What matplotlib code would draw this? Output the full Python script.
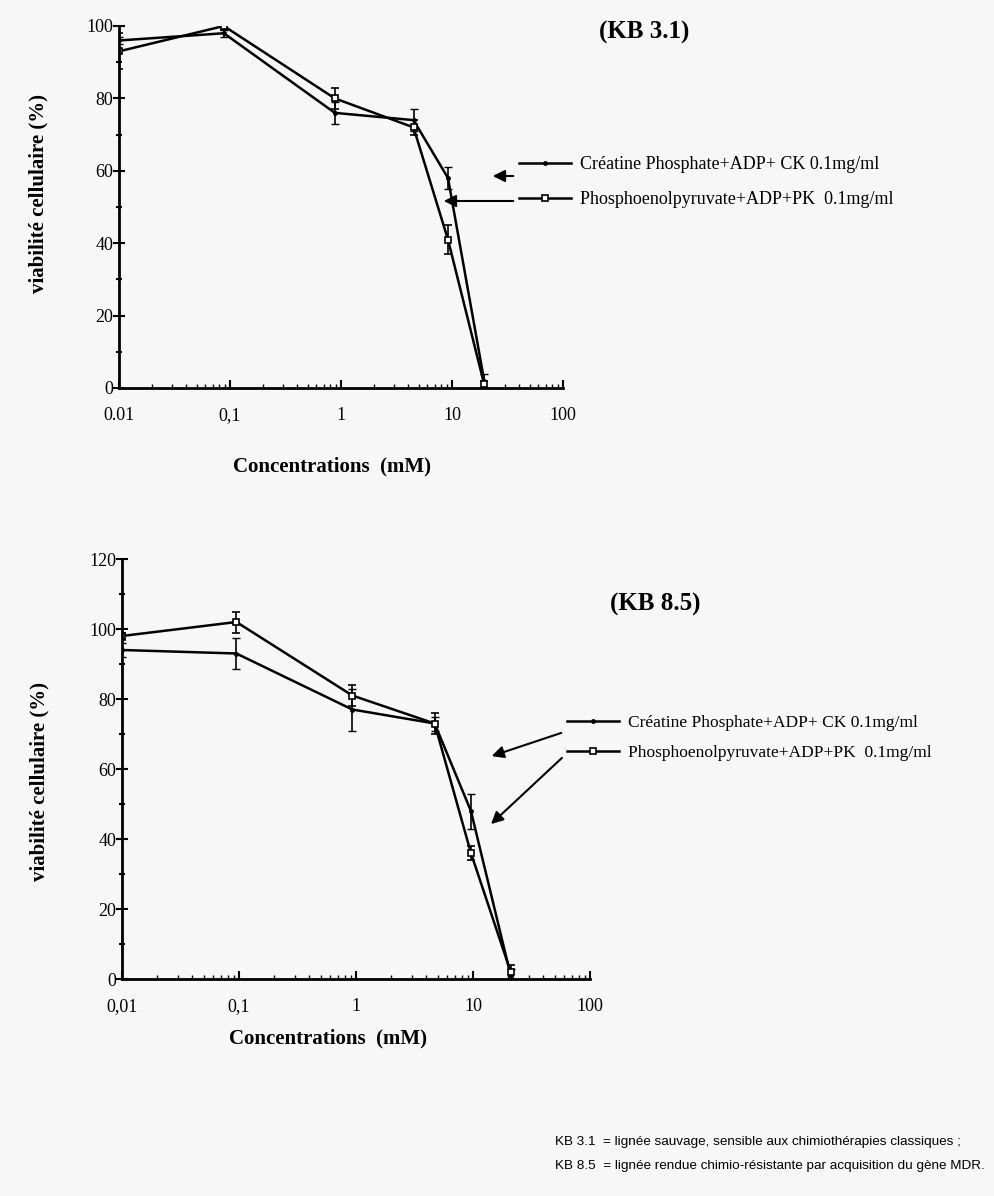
import matplotlib
matplotlib.use("Agg")
import matplotlib.pyplot as plt
from matplotlib.lines import Line2D
from matplotlib.ticker import FixedLocator, NullFormatter, LogLocator

# =========================================================
# Données
# =========================================================
labels_series = ["Créatine Phosphate+ADP+ CK 0.1mg/ml",
                 "Phosphoenolpyruvate+ADP+PK  0.1mg/ml"]

# KB 3.1
conc_kb31 = [0.01, 0.088, 0.88, 4.5, 9.2, 19.5]
crea_kb31 = [96, 98, 76, 74, 58, 2]
crea_kb31_err = [1, 1, 3, 3, 3, 2]
pep_kb31 = [93, 100, 80, 72, 41, 1]
pep_kb31_err = [5, 1, 3, 2, 4, 1]

# KB 8.5
conc_kb85 = [0.01, 0.095, 0.93, 4.7, 9.6, 21]
crea_kb85 = [94, 93, 77, 73, 48, 1]
crea_kb85_err = [2, 4.5, 6, 2, 5, 2]
pep_kb85 = [98, 102, 81, 73, 36, 2]
pep_kb85_err = [1, 3, 3, 3, 2, 2]

xticks = [0.01, 0.1, 1, 10, 100]
xticklabels_kb31 = ["0.01", "0,1", "1", "10", "100"]
xticklabels_kb85 = ["0,01", "0,1", "1", "10", "100"]

W, H = 994, 1196
SERIF = ["Liberation Serif", "DejaVu Serif"]
SANS = ["Liberation Sans", "DejaVu Sans"]
BG = "#f7f7f7"


def fpx(x, y):
    # coordonnées image (origine en haut) -> pixels figure
    return (x, H - y)


def fleche(ax, x0, y0, x1, y1):
    ax.annotate("", xy=fpx(x1, y1), xytext=fpx(x0, y0), xycoords="figure pixels",
                textcoords="figure pixels",
                arrowprops=dict(arrowstyle="-|>", color="black", lw=1.5,
                                mutation_scale=18))


def tracer(ax, conc, crea, crea_err, pep, pep_err, ymax, xlabels):
    ax.errorbar(conc, crea, yerr=crea_err, color="black", lw=1.8,
                marker="o", ms=2.5, capsize=3, elinewidth=1.2)
    ax.errorbar(conc, pep, yerr=pep_err, color="black", lw=1.8,
                marker="s", ms=4, mfc="white", mew=1.2, capsize=3,
                elinewidth=1.2)
    ax.set_xscale("log")
    ax.set_xlim(0.01, 100)
    ax.set_ylim(0, ymax)
    ax.set_facecolor(BG)
    for s in ["top", "right"]:
        ax.spines[s].set_visible(False)
    for s in ["left", "bottom"]:
        ax.spines[s].set_linewidth(2)
    ax.set_xticks(xticks)
    ax.set_xticklabels(xlabels, family=SERIF, fontsize=13)
    ax.xaxis.set_minor_locator(LogLocator(base=10, subs=range(2, 10)))
    ax.xaxis.set_minor_formatter(NullFormatter())
    ax.set_yticks(range(0, ymax + 1, 20))
    ax.set_yticklabels([str(v) for v in range(0, ymax + 1, 20)],
                       family=SERIF, fontsize=13)
    ax.yaxis.set_minor_locator(FixedLocator(range(10, ymax, 20)))
    ax.tick_params(axis="y", which="major", direction="inout", length=8, width=1.5, pad=0)
    ax.tick_params(axis="y", which="minor", direction="inout", length=5, width=1.5)
    ax.tick_params(axis="x", which="major", direction="in", length=6, width=1.5, pad=14)
    ax.tick_params(axis="x", which="minor", direction="in", length=3, width=1)
    ax.set_ylabel("viabilité cellulaire (%)", family=SERIF, fontsize=15,
                  fontweight="bold")
    ax.set_xlabel("Concentrations  (mM)", family=SERIF, fontsize=15,
                  fontweight="bold")


poignees = [Line2D([], [], color="black", lw=1.8, marker="o", ms=2.5),
            Line2D([], [], color="black", lw=1.8, marker="s", ms=4,
                   mfc="white", mew=1.2)]

fig = plt.figure(figsize=(W / 100, H / 100), dpi=100)
fig.patch.set_facecolor(BG)

# === KB 3.1 ===
ax1 = fig.add_axes([119 / W, 1 - 388 / H, 444 / W, 362 / H])
tracer(ax1, conc_kb31, crea_kb31, crea_kb31_err, pep_kb31, pep_kb31_err,
       100, xticklabels_kb31)
ax1.yaxis.set_label_coords(-0.158, 0.536)
ax1.xaxis.set_label_coords(0.48, -0.19)
fig.text(644 / W, 1 - 32 / H, "(KB 3.1)", family=SERIF, fontsize=18,
         fontweight="bold", ha="center", va="center")
fig.legend(poignees, labels_series, loc="center left", frameon=False,
           bbox_to_anchor=(519 / W, 1 - 182 / H), prop={"family": SERIF, "size": 13},
           handlelength=2.9, handletextpad=0.5, labelspacing=1.0,
           borderpad=0, borderaxespad=0)
fleche(ax1, 516, 176, 490, 176)
fleche(ax1, 516, 201, 441, 201)

# === KB 8.5 ===
ax2 = fig.add_axes([122 / W, 1 - 979 / H, 468 / W, 420 / H])
tracer(ax2, conc_kb85, crea_kb85, crea_kb85_err, pep_kb85, pep_kb85_err,
       120, xticklabels_kb85)
ax2.yaxis.set_label_coords(-0.154, 0.47)
ax2.xaxis.set_label_coords(0.44, -0.117)
fig.text(655 / W, 1 - 604 / H, "(KB 8.5)", family=SERIF, fontsize=18,
         fontweight="bold", ha="center", va="center")
fig.legend(poignees, labels_series, loc="center left", frameon=False,
           bbox_to_anchor=(567 / W, 1 - 738 / H), prop={"family": SERIF, "size": 12.5},
           handlelength=3.0, handletextpad=0.5, labelspacing=0.8,
           borderpad=0, borderaxespad=0)
fleche(ax2, 564, 732, 489, 757)
fleche(ax2, 564, 756, 489, 826)

# === Note de bas de page ===
fig.text(555 / W, 1 - 1142 / H,
         "KB 3.1  = lignée sauvage, sensible aux chimiothérapies classiques ;",
         family=SANS, fontsize=9.7, ha="left", va="center")
fig.text(555 / W, 1 - 1166 / H,
         "KB 8.5  = lignée rendue chimio-résistante par acquisition du gène MDR.",
         family=SANS, fontsize=9.7, ha="left", va="center")

fig.savefig("out.png", dpi=100, facecolor=fig.get_facecolor())
